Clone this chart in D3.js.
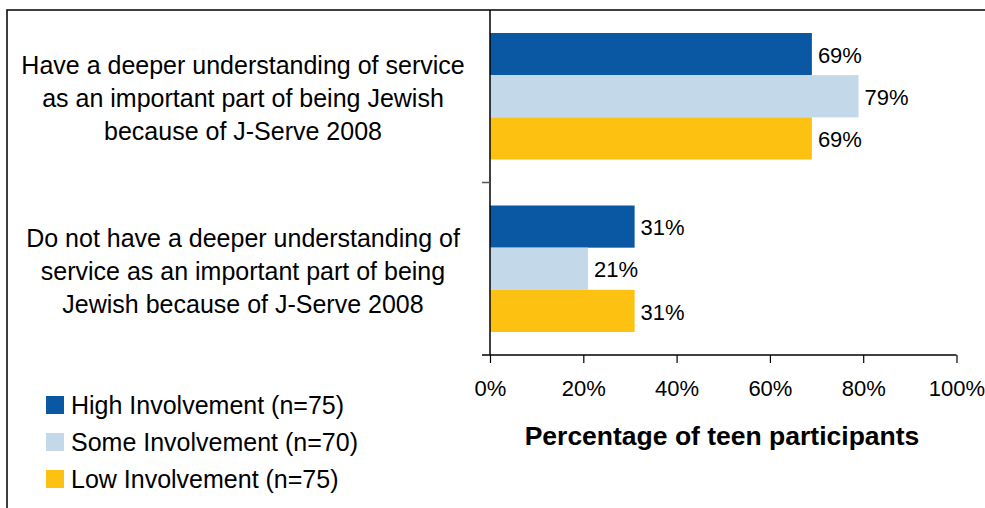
<!DOCTYPE html>
<html lang="en">
<head>
<meta charset="UTF-8">
<title>J-Serve 2008</title>
<script src="https://d3js.org/d3.v7.min.js"></script>
<style>
  body { margin: 0; background: #fff; }
  text { font-family: "Liberation Sans", Arial, sans-serif; fill: #000; }
</style>
</head>
<body>
<svg width="985" height="508"></svg>
<script>
    // data
    var categories = [
        ["Have a deeper understanding of service", "as an important part of being Jewish", "because of J-Serve 2008"],
        ["Do not have a deeper understanding of", "service as an important part of being", "Jewish because of J-Serve 2008"]
    ];
    var seriesNames = ["High Involvement (n=75)", "Some Involvement (n=70)", "Low Involvement (n=75)"];
    var highValues = [69, 31];
    var someValues = [79, 21];
    var lowValues = [69, 31];
    var tickValues = [0, 20, 40, 60, 80, 100];

    var colors = ["#0A57A4", "#C3D8E8", "#FDC111"];
    var seriesValues = [highValues, someValues, lowValues];

    var svg = d3.select("svg");

    // outer frame (runs off the page on right and bottom)
    svg.append("rect")
        .attr("x", 7).attr("y", 10)
        .attr("width", 1100).attr("height", 700)
        .attr("fill", "none")
        .attr("stroke", "#000")
        .attr("stroke-width", 1.5);

    var x = d3.scaleLinear().domain([0, 100]).range([490, 956.5]);
    var y0 = d3.scaleBand().domain([0, 1]).range([10, 355]);
    var y1 = d3.scaleBand().domain([0, 1, 2]).range([23, y0.bandwidth() - 23]);

    var groups = svg.selectAll("g.cat")
        .data(categories.map(function (c, i) { return i; }))
        .enter().append("g")
        .attr("class", "cat")
        .attr("transform", function (i) { return "translate(0," + y0(i) + ")"; });

    groups.selectAll("rect")
        .data(function (i) {
            return seriesValues.map(function (vals, s) { return {s: s, v: vals[i]}; });
        })
        .enter().append("rect")
        .attr("x", x(0))
        .attr("y", function (d) { return y1(d.s); })
        .attr("width", function (d) { return x(d.v) - x(0); })
        .attr("height", y1.bandwidth())
        .attr("fill", function (d) { return colors[d.s]; });

    groups.selectAll("text.val")
        .data(function (i) {
            return seriesValues.map(function (vals, s) { return {s: s, v: vals[i]}; });
        })
        .enter().append("text")
        .attr("class", "val")
        .attr("x", function (d) { return x(d.v) + 6; })
        .attr("y", function (d) { return y1(d.s) + y1.bandwidth() / 2 + 1; })
        .attr("dy", "0.35em")
        .attr("font-size", 22)
        .text(function (d) { return d.v + "%"; });

    // category labels
    groups.append("text")
        .attr("text-anchor", "middle")
        .attr("font-size", 25)
        .selectAll("tspan")
        .data(function (i) { return categories[i]; })
        .enter().append("tspan")
        .attr("x", 243)
        .attr("y", function (d, k) { return y0.bandwidth() / 2 + 2 + (k - 1) * 33; })
        .attr("dy", "0.35em")
        .text(function (d) { return d; });

    // category axis
    svg.append("line")
        .attr("x1", x(0)).attr("x2", x(0))
        .attr("y1", 10).attr("y2", 355)
        .attr("stroke", "#000").attr("stroke-width", 1.5);
    svg.append("line")
        .attr("x1", 482).attr("x2", x(0))
        .attr("y1", y0(1)).attr("y2", y0(1))
        .attr("stroke", "#555").attr("stroke-width", 1.5);

    // value axis
    var xAxis = svg.append("g")
        .attr("transform", "translate(0,355)")
        .call(d3.axisBottom(x).tickValues(tickValues).tickSize(8).tickPadding(17)
            .tickFormat(function (d) { return d + "%"; }));
    xAxis.select(".domain").attr("d", "M482,0H" + x(100)).attr("stroke-width", 1.5);
    xAxis.selectAll(".tick line").attr("stroke-width", 1.2);
    xAxis.selectAll(".tick text")
        .attr("font-size", 22)
        .attr("font-family", "Liberation Sans, Arial, sans-serif")
        .attr("fill", "#000");

    svg.append("text")
        .attr("x", 722).attr("y", 445)
        .attr("text-anchor", "middle")
        .attr("font-size", 26.5)
        .attr("font-weight", "bold")
        .text("Percentage of teen participants");

    // legend
    var legend = svg.selectAll("g.leg")
        .data(seriesNames)
        .enter().append("g")
        .attr("class", "leg")
        .attr("transform", function (d, i) { return "translate(46," + (396 + i * 37) + ")"; });
    legend.append("rect")
        .attr("width", 18).attr("height", 18)
        .attr("fill", function (d, i) { return colors[i]; });
    legend.append("text")
        .attr("x", 25).attr("y", 9)
        .attr("dy", "0.35em")
        .attr("font-size", 25)
        .text(function (d) { return d; });
</script>
</body>
</html>
